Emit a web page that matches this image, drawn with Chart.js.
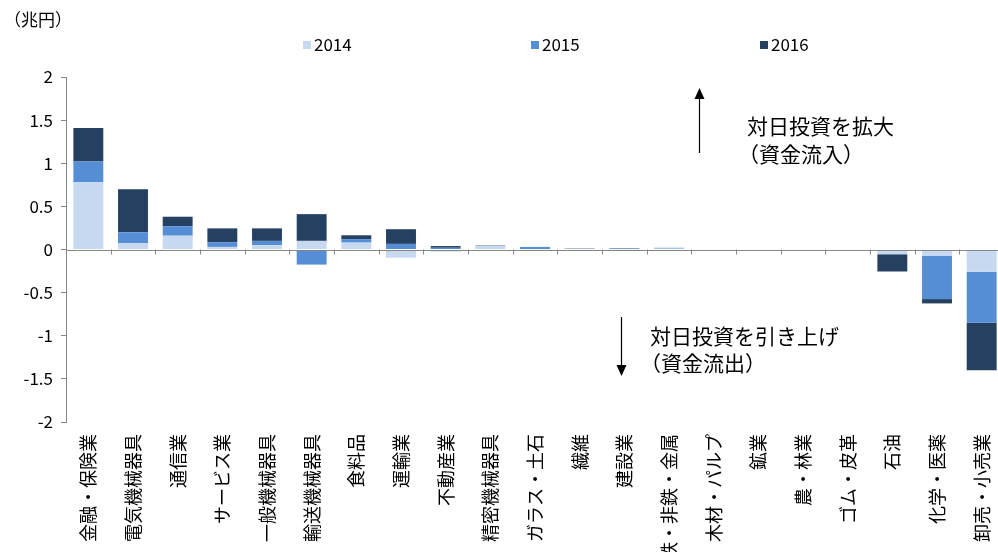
<!DOCTYPE html>
<html>
<head>
<meta charset="utf-8">
<script src="https://cdn.jsdelivr.net/npm/chart.js@4.4.1/dist/chart.umd.min.js"></script>
<style>
  html, body { margin: 0; padding: 0; background: #ffffff; overflow: hidden; }
  #wrap { width: 998px; height: 552px; overflow: hidden; }
</style>
</head>
<body>
<div id="wrap"><canvas id="barChart" width="1004" height="552"></canvas></div>
<script>
// 業種別の対日投資フロー（兆円）
const categories = [
    '金融・保険業', '電気機械器具', '通信業', 'サービス業', '一般機械器具',
    '輸送機械器具', '食料品', '運輸業', '不動産業', '精密機械器具',
    'ガラス・土石', '繊維', '建設業', '鉄・非鉄・金属', '木材・パルプ',
    '鉱業', '農・林業', 'ゴム・皮革', '石油', '化学・医薬', '卸売・小売業'
];
const years = ['2014', '2015', '2016'];

const values2014 = [0.78, 0.075, 0.16, 0.03, 0.05, 0.10, 0.08, -0.095, -0.025, 0.04, 0.005, 0.01, 0.005, 0.01, 0, 0, 0, 0, -0.055, -0.075, -0.26];
const values2015 = [0.24, 0.125, 0.11, 0.055, 0.05, -0.175, 0.04, 0.065, 0.02, -0.015, 0.025, 0, 0.005, 0.01, 0, 0, 0, 0, 0, -0.5, -0.59];
const values2016 = [0.39, 0.50, 0.11, 0.16, 0.145, 0.31, 0.045, 0.17, 0.02, 0.005, 0, 0.005, 0.005, 0, 0, 0, 0, 0, -0.2, -0.05, -0.55];

const yTickLabels = ['2', '1.5', '1', '0.5', '0', '-0.5', '-1', '-1.5', '-2'];

const colors = ['#c6d9f1', '#558ed5', '#254061'];
const FONT = "'Noto Sans CJK JP', 'Noto Sans', sans-serif";
const AXIS_GREY = '#868686';

// 凡例・注記・ゼロ線を描く
const decorPlugin = {
    id: 'decor',
    afterDatasetsDraw(chart) {
        const ctx = chart.ctx;
        const x = chart.scales.x;
        const y = chart.scales.y;
        const y0 = y.getPixelForValue(0);

        ctx.save();
        ctx.strokeStyle = AXIS_GREY;
        ctx.lineWidth = 1;
        ctx.beginPath();
        ctx.moveTo(chart.chartArea.left, Math.round(y0) + 0.5);
        ctx.lineTo(chart.chartArea.right, Math.round(y0) + 0.5);
        for (let i = 0; i <= categories.length; i++) {
            const px = Math.round(x.getPixelForValue(i - 0.5)) + 0.5;
            ctx.moveTo(px, y0);
            ctx.lineTo(px, y0 + 5);
        }
        ctx.stroke();
        ctx.restore();
    },
    afterDraw(chart) {
        const ctx = chart.ctx;
        ctx.save();
        ctx.fillStyle = '#000';
        ctx.textBaseline = 'middle';

        // 単位
        ctx.font = '17px ' + FONT;
        ctx.fillText('（兆円）', 4, 20);

        // 凡例
        const legendX = [303, 531, 760];
        chart.data.datasets.forEach((ds, i) => {
            ctx.fillStyle = ds.backgroundColor;
            ctx.fillRect(legendX[i], 41, 8, 8);
            ctx.fillStyle = '#000';
            ctx.fillText(ds.label, legendX[i] + 11, 45);
        });

        // 注記
        ctx.font = '21px ' + FONT;
        ctx.fillText('対日投資を拡大', 747, 126);
        ctx.fillText('（資金流入）', 738, 154);
        ctx.fillText('対日投資を引き上げ', 650, 336);
        ctx.fillText('（資金流出）', 640, 363);

        // 矢印
        ctx.strokeStyle = '#000';
        ctx.lineWidth = 1.2;
        ctx.beginPath();
        ctx.moveTo(699.5, 153);
        ctx.lineTo(699.5, 96);
        ctx.moveTo(621.5, 317);
        ctx.lineTo(621.5, 367);
        ctx.stroke();
        ctx.beginPath();
        ctx.moveTo(699.5, 88);
        ctx.lineTo(694.5, 99);
        ctx.lineTo(704.5, 99);
        ctx.closePath();
        ctx.moveTo(621.5, 376);
        ctx.lineTo(616.5, 365);
        ctx.lineTo(626.5, 365);
        ctx.closePath();
        ctx.fill();
        ctx.restore();
    }
};

const ctx = document.getElementById('barChart');
const myBarChart = new Chart(ctx, {
    type: 'bar',
    data: {
        labels: categories,
        datasets: [
            { label: years[0], data: values2014, backgroundColor: colors[0] },
            { label: years[1], data: values2015, backgroundColor: colors[1] },
            { label: years[2], data: values2016, backgroundColor: colors[2] },
        ],
    },
    options: {
        responsive: false,
        animation: false,
        layout: { padding: { top: 77, left: 0, right: 0, bottom: 0 } },
        datasets: {
            bar: { categoryPercentage: 1, barPercentage: 0.67, borderWidth: 0 },
        },
        plugins: {
            legend: { display: false },
            tooltip: { enabled: false },
        },
        scales: {
            x: {
                stacked: true,
                border: { display: false },
                grid: { display: false, drawTicks: false },
                ticks: {
                    autoSkip: false,
                    maxRotation: 90,
                    minRotation: 90,
                    padding: 12,
                    color: '#000',
                    font: { family: FONT, size: 18 },
                },
                afterFit: (scale) => {
                    scale.height = 130;
                    scale.paddingLeft = 0;
                    scale.paddingRight = 0;
                },
            },
            y: {
                stacked: true,
                min: -2,
                max: 2,
                border: { display: true, color: AXIS_GREY },
                grid: { drawOnChartArea: false, drawTicks: true, tickLength: 5, color: AXIS_GREY },
                ticks: {
                    stepSize: 0.5,
                    padding: 8,
                    color: '#000',
                    font: { family: FONT, size: 17 },
                    callback: (value, index) => yTickLabels[yTickLabels.length - 1 - index],
                },
                afterFit: (scale) => { scale.width = 66; },
            },
        },
    },
    plugins: [decorPlugin],
});
</script>
</body>
</html>
